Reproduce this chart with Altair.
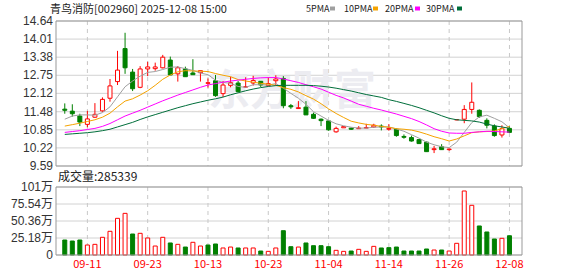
import altair as alt
import pandas as pd

# ---------------- data ----------------
dates = ["09-08", "09-09", "09-10", "09-11", "09-12", "09-15", "09-16", "09-17", "09-18", "09-19",
         "09-22", "09-23", "09-24", "09-25", "09-26", "09-29", "09-30", "10-09", "10-10", "10-13",
         "10-14", "10-15", "10-16", "10-17", "10-20", "10-21", "10-22", "10-23", "10-24", "10-27",
         "10-28", "10-29", "10-30", "10-31", "11-03", "11-04", "11-05", "11-06", "11-07", "11-10",
         "11-11", "11-12", "11-13", "11-14", "11-17", "11-18", "11-19", "11-20", "11-21", "11-24",
         "11-25", "11-26", "11-27", "11-28", "12-01", "12-02", "12-03", "12-04", "12-05", "12-08"]

opens = [11.57, 11.50, 11.33, 11.04, 11.29, 11.51, 11.95, 12.53, 13.68, 12.86,
         12.33, 12.97, 12.98, 13.01, 13.28, 12.80, 12.97, 12.83, 12.84, 12.47,
         12.56, 12.11, 12.40, 12.48, 12.34, 12.48, 12.54, 12.39, 12.56, 12.64,
         11.69, 11.59, 11.64, 11.39, 11.22, 11.16, 10.78, 10.92, 10.91, 10.89,
         10.91, 10.95, 10.98, 10.87, 10.87, 10.62, 10.58, 10.51, 10.42, 10.16,
         10.26, 10.16, 11.20, 11.22, 11.56, 11.53, 11.18, 10.98, 10.67, 10.90]
highs = [11.77, 11.74, 11.41, 11.51, 11.78, 11.98, 12.62, 13.60, 14.23, 12.97,
         13.07, 13.22, 13.19, 13.46, 13.40, 13.07, 13.05, 13.31, 12.91, 12.64,
         12.76, 12.55, 12.70, 12.55, 12.68, 12.73, 12.54, 12.68, 12.75, 12.72,
         11.75, 11.85, 11.85, 11.45, 11.25, 11.16, 10.96, 10.98, 10.93, 10.98,
         11.06, 11.06, 11.04, 11.05, 10.90, 10.69, 10.65, 10.53, 10.44, 10.29,
         10.35, 10.20, 11.20, 11.71, 12.50, 11.56, 11.25, 11.04, 11.01, 10.97]
lows = [11.41, 11.31, 10.98, 10.94, 11.27, 11.48, 11.83, 12.41, 12.80, 12.20,
        12.30, 12.72, 12.91, 12.99, 12.76, 12.53, 12.70, 12.77, 12.53, 12.32,
        12.00, 11.99, 12.33, 12.16, 12.32, 12.39, 12.34, 12.37, 12.39, 11.60,
        11.58, 11.59, 11.37, 11.23, 10.98, 10.82, 10.75, 10.92, 10.85, 10.89,
        10.91, 10.92, 10.83, 10.82, 10.61, 10.54, 10.44, 10.36, 10.09, 10.04,
        10.16, 10.12, 11.20, 11.08, 11.41, 11.27, 10.90, 10.61, 10.58, 10.76]
closes = [11.53, 11.41, 11.12, 11.23, 11.39, 11.91, 12.38, 12.93, 13.01, 12.28,
          12.97, 13.04, 13.04, 13.38, 12.76, 13.01, 12.70, 12.77, 12.91, 12.49,
          12.04, 12.41, 12.49, 12.18, 12.35, 12.57, 12.41, 12.46, 12.62, 11.69,
          11.65, 11.62, 11.37, 11.25, 11.17, 10.85, 10.90, 10.96, 10.87, 10.91,
          10.93, 11.01, 10.95, 10.90, 10.65, 10.59, 10.46, 10.37, 10.09, 10.19,
          10.16, 10.18, 11.20, 11.56, 11.81, 11.31, 11.01, 10.65, 10.89, 10.76]

# volume in 万 (10k shares)
volumes = [22.2, 20.7, 22.2, 14.8, 15.8, 26.2, 35.1, 54.3, 61.7, 31.1,
           32.1, 25.2, 13.3, 26.2, 17.8, 15.8, 11.8, 18.8, 13.3, 14.8,
           16.3, 10.4, 11.8, 10.4, 10.4, 10.4, 5.9, 5.4, 10.4, 36.0,
           12.3, 11.8, 17.8, 13.8, 13.8, 12.3, 6.9, 5.4, 5.9, 8.4,
           5.4, 12.8, 10.4, 10.9, 11.8, 5.9, 5.9, 5.9, 8.9, 7.4,
           7.4, 5.9, 17.3, 94.8, 73.6, 43.0, 34.1, 23.7, 24.7, 28.53]
vol_dirs = ["down", "down", "down", "up", "up", "up", "up", "up", "up", "down",
            "up", "up", "up", "up", "down", "up", "down", "up", "up", "down",
            "down", "up", "up", "down", "up", "up", "down", "up", "up", "down",
            "down", "up", "down", "down", "down", "down", "up", "up", "down", "up",
            "up", "up", "down", "down", "down", "down", "down", "down", "down", "up",
            "down", "up", "up", "up", "up", "down", "down", "down", "up", "down"]

ma5 = [11.22, 11.33, 11.37, 11.37, 11.36, 11.45, 11.65, 12.00, 12.35, 12.55,
       12.72, 12.85, 12.88, 12.95, 13.03, 13.04, 12.98, 12.92, 12.83, 12.77,
       12.58, 12.50, 12.47, 12.36, 12.33, 12.42, 12.42, 12.41, 12.46, 12.30,
       12.12, 11.95, 11.74, 11.48, 11.33, 11.18, 11.06, 10.99, 10.94, 10.91,
       10.91, 10.94, 10.95, 10.95, 10.88, 10.80, 10.68, 10.56, 10.42, 10.33,
       10.26, 10.23, 10.42, 10.76, 11.10, 11.30, 11.36, 11.25, 11.13, 10.92]
ma10 = [10.98, 11.03, 11.08, 11.14, 11.20, 11.29, 11.43, 11.65, 11.85, 11.93,
        12.06, 12.21, 12.40, 12.61, 12.76, 12.87, 12.91, 12.90, 12.89, 12.88,
        12.81, 12.75, 12.70, 12.60, 12.55, 12.51, 12.47, 12.44, 12.40, 12.32,
        12.26, 12.17, 12.04, 11.92, 11.76, 11.58, 11.42, 11.28, 11.15, 11.09,
        11.04, 11.01, 10.97, 10.94, 10.89, 10.87, 10.84, 10.78, 10.70, 10.61,
        10.54, 10.46, 10.53, 10.64, 10.75, 10.78, 10.79, 10.81, 10.89, 10.97]
ma20 = [10.76, 10.79, 10.82, 10.86, 10.90, 10.97, 11.07, 11.20, 11.33, 11.43,
        11.53, 11.64, 11.75, 11.86, 11.96, 12.06, 12.15, 12.24, 12.33, 12.41,
        12.46, 12.51, 12.55, 12.58, 12.61, 12.64, 12.66, 12.67, 12.67, 12.62,
        12.56, 12.50, 12.42, 12.35, 12.27, 12.16, 12.05, 11.96, 11.85, 11.74,
        11.67, 11.60, 11.54, 11.47, 11.40, 11.32, 11.24, 11.14, 11.02, 10.89,
        10.80, 10.74, 10.73, 10.73, 10.76, 10.78, 10.80, 10.79, 10.78, 10.77]
ma30 = [10.69, 10.71, 10.73, 10.75, 10.78, 10.82, 10.87, 10.95, 11.03, 11.11,
        11.21, 11.30, 11.38, 11.46, 11.54, 11.62, 11.69, 11.76, 11.82, 11.88,
        11.93, 11.99, 12.07, 12.14, 12.21, 12.27, 12.32, 12.36, 12.39, 12.40,
        12.40, 12.40, 12.40, 12.39, 12.37, 12.34, 12.30, 12.25, 12.20, 12.14,
        12.08, 12.03, 11.98, 11.90, 11.84, 11.77, 11.70, 11.62, 11.53, 11.44,
        11.34, 11.25, 11.20, 11.18, 11.16, 11.12, 11.05, 10.99, 10.95, 10.90]

price_ticks = [14.64, 14.01, 13.38, 12.75, 12.12, 11.48, 10.85, 10.22, 9.59]
price_tick_labels = ["14.64", "14.01", "13.38", "12.75", "12.12", "11.48", "10.85", "10.22", "9.59"]
vol_ticks = [100.72, 75.54, 50.36, 25.18, 0]
vol_tick_labels = ["101万", "75.54万", "50.36万", "25.18万", "0"]
date_ticks = ["09-11", "09-23", "10-13", "10-23", "11-04", "11-14", "11-26", "12-08"]

title_text = "青鸟消防[002960] 2025-12-08 15:00"
volume_text = "成交量:285339"
ma_names = ["5PMA", "10PMA", "20PMA", "30PMA"]
watermark_text = "东方财富"

# ---------------- styling / layout ----------------
RED = "#ff0000"
GREEN = "#008000"
MA_COLORS = ["#a0a0a0", "#f5a300", "#ff00ff", "#006e3a"]
GRID = "#d2d2d2"
FRAME = "#999999"
CJK = "Noto Sans CJK SC"

W, H = 466, 234
PH = 145          # bottom of price panel
VT, VB = 166, 234  # volume panel top / bottom
legend_text_x = [250, 288, 329, 370]
legend_box_x = [274, 317, 359, 401]

df = pd.DataFrame({
    "idx": list(range(len(dates))),
    "date": dates,
    "open": opens, "high": highs, "low": lows, "close": closes,
    "vol": volumes, "vdir": vol_dirs,
    "ma5": ma5, "ma10": ma10, "ma20": ma20, "ma30": ma30,
})
df["cdir"] = ["up" if c >= o else "down" for o, c in zip(opens, closes)]

one = pd.DataFrame({"k": [0]})
pt_df = pd.DataFrame({"v": price_ticks, "label": price_tick_labels})
vt_df = pd.DataFrame({"v": vol_ticks, "label": vol_tick_labels})
dt_df = pd.DataFrame({"idx": [dates.index(d) for d in date_ticks], "d": date_ticks})

xs = alt.Scale(domain=[-0.5, 60.0], nice=False, zero=False)
ps = alt.Scale(domain=[9.59, 14.64], range=[PH, 0], nice=False, zero=False)
vs = alt.Scale(domain=[0, 100.72], range=[VB, VT], nice=False, zero=False)
X = alt.X("idx:Q", scale=xs, axis=None)
fill_scale = alt.Scale(domain=["up", "down"], range=["#ffffff", GREEN])
stroke_scale = alt.Scale(domain=["up", "down"], range=[RED, GREEN])

layers = []

# horizontal grid
layers.append(alt.Chart(pt_df).mark_rule(color=GRID, strokeWidth=1).encode(
    y=alt.Y("v:Q", scale=ps, axis=None), x=alt.value(0), x2=alt.value(W)))
layers.append(alt.Chart(vt_df).mark_rule(color=GRID, strokeWidth=1).encode(
    y=alt.Y("v:Q", scale=vs, axis=None), x=alt.value(0), x2=alt.value(W)))
# vertical dashed grid
layers.append(alt.Chart(dt_df).mark_rule(color="#c8c8c8", strokeWidth=1, strokeDash=[4, 4]).encode(
    x=X, y=alt.value(0), y2=alt.value(PH)))
layers.append(alt.Chart(dt_df).mark_rule(color="#c8c8c8", strokeWidth=1, strokeDash=[4, 4]).encode(
    x=X, y=alt.value(VT), y2=alt.value(VB)))

# watermark
layers.append(alt.Chart(one).mark_text(text=watermark_text, font=CJK, fontSize=42, fontWeight="bold",
                                       color="#ececf1", align="center", baseline="middle").encode(
    x=alt.value(236), y=alt.value(71)))

# candles
layers.append(alt.Chart(df).mark_rule(strokeWidth=1).encode(
    x=X, y=alt.Y("high:Q", scale=ps, axis=None), y2="low:Q",
    stroke=alt.Stroke("cdir:N", scale=stroke_scale, legend=None)))
layers.append(alt.Chart(df).mark_bar(size=4, strokeWidth=1).encode(
    x=X, y=alt.Y("open:Q", scale=ps, axis=None), y2="close:Q",
    fill=alt.Fill("cdir:N", scale=fill_scale, legend=None),
    stroke=alt.Stroke("cdir:N", scale=stroke_scale, legend=None)))

# moving averages
for name, col in zip(["ma5", "ma10", "ma20", "ma30"], MA_COLORS):
    layers.append(alt.Chart(df).mark_line(color=col, strokeWidth=1).encode(
        x=X, y=alt.Y(f"{name}:Q", scale=ps, axis=None)))

# volume bars
layers.append(alt.Chart(df).mark_bar(size=4, strokeWidth=1).encode(
    x=X, y=alt.Y("vol:Q", scale=vs, axis=None), y2=alt.datum(0),
    fill=alt.Fill("vdir:N", scale=fill_scale, legend=None),
    stroke=alt.Stroke("vdir:N", scale=stroke_scale, legend=None)))

# frames
layers.append(alt.Chart(one).mark_rect(fillOpacity=0, stroke=FRAME, strokeWidth=1).encode(
    x=alt.value(0), x2=alt.value(W), y=alt.value(0), y2=alt.value(PH)))
layers.append(alt.Chart(one).mark_rect(fillOpacity=0, stroke=FRAME, strokeWidth=1).encode(
    x=alt.value(0), x2=alt.value(W), y=alt.value(VT), y2=alt.value(VB)))

# axis labels
layers.append(alt.Chart(pt_df).mark_text(align="right", baseline="middle", font="Liberation Sans",
                                         fontSize=12, color="#333333").encode(
    y=alt.Y("v:Q", scale=ps, axis=None), x=alt.value(-3), text="label:N"))
layers.append(alt.Chart(vt_df).mark_text(align="right", baseline="middle", font="Liberation Sans, " + CJK,
                                         fontSize=12, color="#333333").encode(
    y=alt.Y("v:Q", scale=vs, axis=None), x=alt.value(-3), text="label:N"))
layers.append(alt.Chart(dt_df).mark_text(align="center", baseline="middle", font=CJK,
                                         fontSize=11, color=RED).encode(
    x=X, y=alt.value(244), text="d:N"))

# title and volume caption
layers.append(alt.Chart(one).mark_text(text=title_text, font=CJK, fontSize=11, color="#222222",
                                       align="left", baseline="middle").encode(
    x=alt.value(-6), y=alt.value(-11.5)))
layers.append(alt.Chart(one).mark_text(text=volume_text, font=CJK, fontSize=12, color="#222222",
                                       align="left", baseline="middle").encode(
    x=alt.value(2), y=alt.value(156)))

# legend
for name, col, tx, bx in zip(ma_names, MA_COLORS, legend_text_x, legend_box_x):
    layers.append(alt.Chart(one).mark_text(text=name, font=CJK, fontSize=9, color="#222222",
                                           align="left", baseline="middle").encode(
        x=alt.value(tx), y=alt.value(-12)))
    layers.append(alt.Chart(one).mark_rect(color=col).encode(
        x=alt.value(bx), x2=alt.value(bx + 5), y=alt.value(-14.5), y2=alt.value(-10.5)))

chart = alt.layer(*layers).resolve_scale(y="independent").properties(
    width=W, height=H,
    padding={"left": 56, "top": 21, "right": 56, "bottom": 21},
    autosize=alt.AutoSizeParams(type="none"),
    background="white",
).configure_view(stroke=None)

chart.save("out.html", embed_options={"renderer": "svg", "actions": False})
